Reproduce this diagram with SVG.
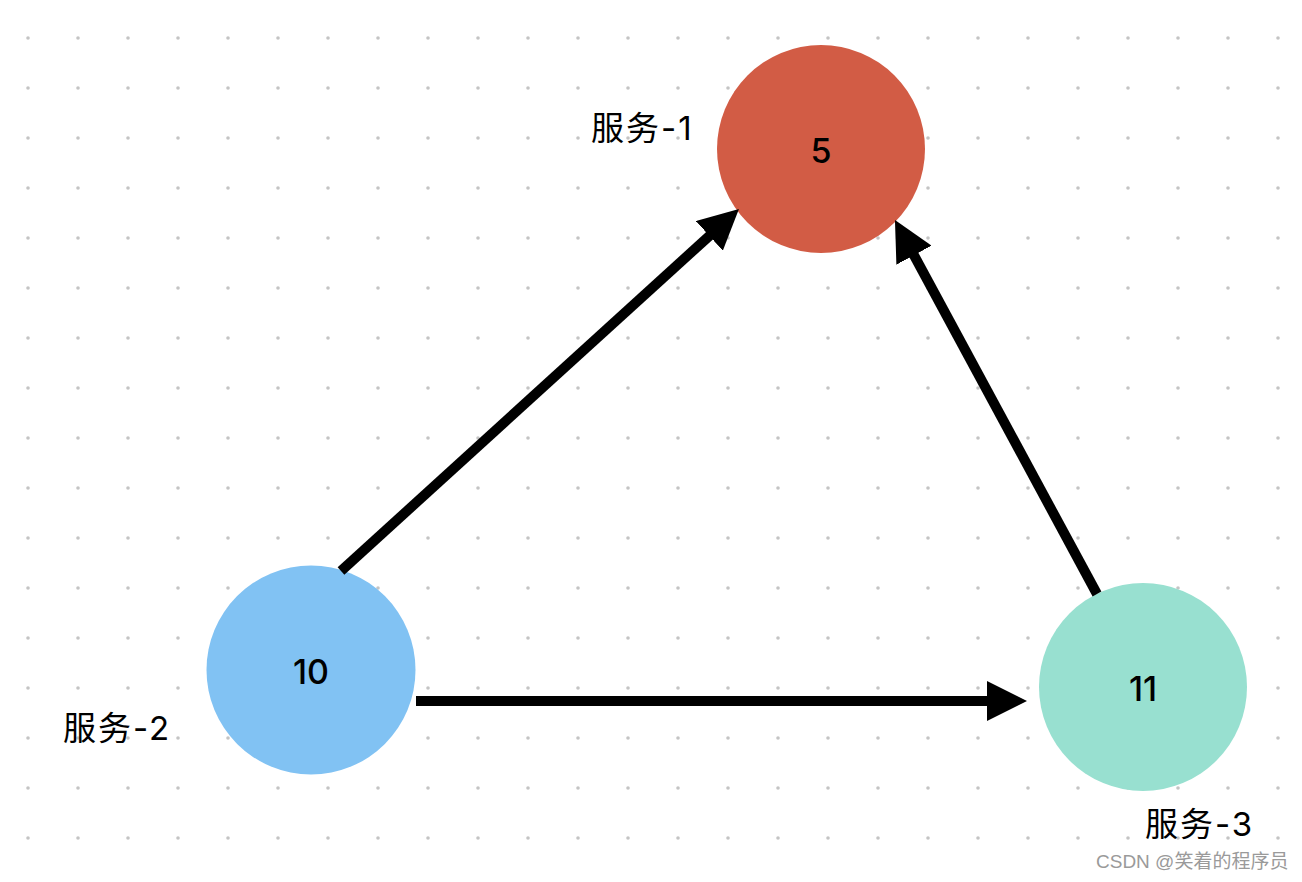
<svg xmlns="http://www.w3.org/2000/svg" width="1302" height="882" viewBox="0 0 1302 882">
<style>
.num{font-family:Inter,"Liberation Sans",sans-serif;font-size:34px;font-weight:500;fill:#000;text-anchor:middle}
.lbl{font-family:Inter,"Noto Sans CJK SC",sans-serif;font-size:33px;letter-spacing:2px;fill:#000}
.wm{font-family:"Liberation Sans","Noto Sans CJK SC",sans-serif;font-size:19px;fill:#9a9a9a}
.edge{stroke:#000;stroke-width:10;fill:none;marker-end:url(#ah)}
</style>
<defs>
<pattern id="dots" patternUnits="userSpaceOnUse" x="3" y="13" width="50" height="50">
<circle cx="25" cy="25" r="1.8" fill="#c4c4c4"/>
</pattern>
<marker id="ah" markerUnits="userSpaceOnUse" viewBox="0 0 40 40" markerWidth="40" markerHeight="40" refX="1" refY="20" orient="auto">
<path d="M0,0 L40,20 L0,40 Z" fill="#000"/>
</marker>
</defs>
<rect width="1302" height="882" fill="#fff"/>
<rect width="1302" height="882" fill="url(#dots)"/>
<g id="node-1">
<circle cx="821" cy="149" r="104" fill="#D25C45"/>
<text class="num" x="821" y="163">5</text>
<text class="lbl" x="591" y="140">服务-1</text>
</g>
<g id="node-2">
<circle cx="311" cy="670" r="104.5" fill="#81C2F3"/>
<text class="num" x="311" y="684">10</text>
<text class="lbl" x="63" y="740">服务-2</text>
</g>
<g id="node-3">
<circle cx="1143" cy="687" r="104" fill="#98E0D0"/>
<text class="num" x="1143" y="701">11</text>
<text class="lbl" x="1145" y="836">服务-3</text>
</g>
<g id="connectors">
<line class="edge" x1="341" y1="571" x2="710.1" y2="235.2"/>
<line class="edge" x1="416" y1="701" x2="988" y2="701"/>
<line class="edge" x1="1097" y1="594" x2="913.5" y2="254.3"/>
</g>
<text class="wm" x="1096" y="868">CSDN @笑着的程序员</text>
</svg>
